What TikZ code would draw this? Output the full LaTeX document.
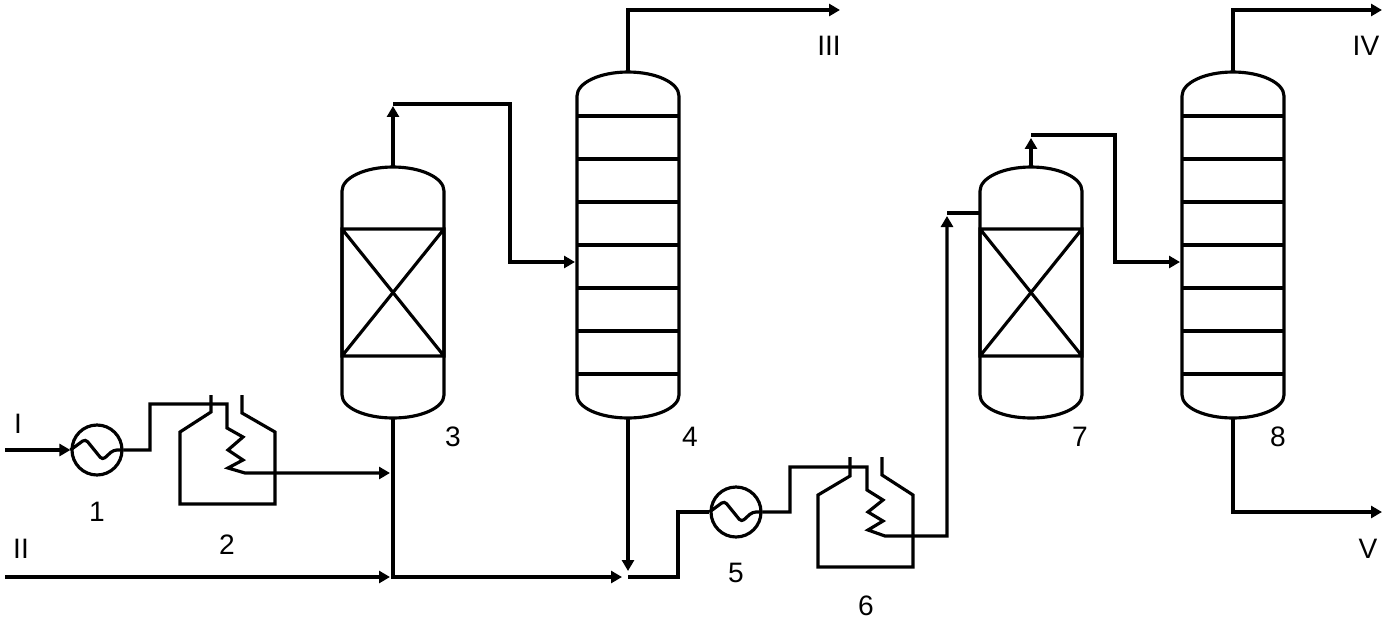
\documentclass[tikz,border=0pt]{standalone}
\usepackage{fontspec}
\setmainfont{Liberation Sans}
\usetikzlibrary{arrows.meta}

\begin{document}
\begin{tikzpicture}[x=0.02cm, y=-0.02cm, line width=1.8pt,
  flow/.style={-{Triangle[length=2.2mm,width=2.4mm]}},
  lbl/.style={font=\fontsize{16}{18}\selectfont, inner sep=0pt},
  hx/.style={shape=circle, draw, minimum size=1cm, inner sep=0pt}]
\useasboundingbox (0,0) rectangle (1386,622);

% heat exchangers
\node[hx] (E1) at (97,450){};
\node[hx] (E5) at (736,512){};
\draw[rounded corners=2pt] (E1.west) -- ++(15,-11) -- ++(17,21) -- ++(11,-10) -- (E1.east);
\draw[rounded corners=2pt] (E5.west) -- ++(15,-11) -- ++(17,21) -- ++(11,-10) -- (E5.east);

% furnaces
\draw (211,395) -- (211,412) -- (180,432) -- (180,504) -- (275,504) -- (275,432) -- (242,413) -- (242,395);
\draw (850,457) -- (850,476) -- (818,495) -- (818,567) -- (913,567) -- (913,495) -- (882,475) -- (882,457);

% reactors
\draw (342,191) arc[start angle=180, end angle=0, x radius=1.02cm, y radius=0.48cm]
  -- (444,395) arc[start angle=0, end angle=-180, x radius=1.02cm, y radius=0.46cm] -- cycle;
\draw (342,229) rectangle (444,356) (342,229) -- (444,356) (444,229) -- (342,356);
\draw (980,191) arc[start angle=180, end angle=0, x radius=1.02cm, y radius=0.48cm]
  -- (1082,395) arc[start angle=0, end angle=-180, x radius=1.02cm, y radius=0.46cm] -- cycle;
\draw (980,229) rectangle (1082,356) (980,229) -- (1082,356) (1082,229) -- (980,356);

% columns
\draw (577,96) arc[start angle=180, end angle=0, x radius=1.02cm, y radius=0.48cm]
  -- (679,395) arc[start angle=0, end angle=-180, x radius=1.02cm, y radius=0.46cm] -- cycle;
\draw (1182,96) arc[start angle=180, end angle=0, x radius=1.02cm, y radius=0.48cm]
  -- (1284,395) arc[start angle=0, end angle=-180, x radius=1.02cm, y radius=0.46cm] -- cycle;
\foreach \y in {116,159,202,245,288,331,374}{
  \draw (577,\y) -- (679,\y);
  \draw (1182,\y) -- (1284,\y);
}

% pipe ends
\coordinate (inI) at (5,450);
\coordinate (inII) at (5,577);
\coordinate (r3top) at (393,167);
\coordinate (r3up) at (393,106);
\coordinate (r3bot) at (393,418);
\coordinate (r3in) at (390,473);
\coordinate (r3inII) at (390,577);
\coordinate (c4top) at (628,72);
\coordinate (c4in) at (575,262);
\coordinate (c4bot) at (628,418);
\coordinate (c4down) at (628,571);
\coordinate (mix) at (622,577);
\coordinate (outIII) at (840,10);
\coordinate (r7top) at (1031,167);
\coordinate (r7up) at (1031,138);
\coordinate (r7feed) at (947,216);
\coordinate (r7in) at (980,213);
\coordinate (c8top) at (1233,72);
\coordinate (c8in) at (1180,262);
\coordinate (c8bot) at (1233,418);
\coordinate (outIV) at (1382,10);
\coordinate (outV) at (1382,512);

% streams
\draw[flow] (inI) -- (E1.west);
\draw[flow] (E1.east) -- (150,450) -- (150,404) -- (227,404) -- (227,428) -- (243,437) -- (228,450)
  -- (243,460) -- (228,468) -- (245,473) -- (r3in);
\draw[flow] (inII) -- (r3inII);
\draw[flow] (r3bot) |- (mix);
\draw[flow] (r3top) -- (r3up);
\draw[flow] (393,104) -| (510,262) -- (c4in);
\draw[flow] (c4top) |- (outIII);
\draw[flow] (c4bot) -- (c4down);
\draw (628,577) -| (678,512) -- (E5.west);
\draw[flow] (E5.east) -- (790,512) -- (790,467) -- (867,467) -- (867,490) -- (883,500) -- (868,512)
  -- (883,521) -- (868,530) -- (885,536) -| (r7feed);
\draw (947,213) -- (r7in);
\draw[flow] (r7top) -- (r7up);
\draw[flow] (1031,135) -| (1115,262) -- (c8in);
\draw[flow] (c8top) |- (outIV);
\draw[flow] (c8bot) |- (outV);

% labels
\node[lbl] (tI) at (18,424) {I};
\node[lbl] (tII) at (21,549) {II};
\node[lbl] (tIII) at (829,46) {III};
\node[lbl] (tIV) at (1366,46) {IV};
\node[lbl] (tV) at (1368,549) {V};
\node[lbl] (t1) at (97,512) {1};
\node[lbl] (t2) at (227,545) {2};
\node[lbl] (t3) at (453,437) {3};
\node[lbl] (t4) at (690,437) {4};
\node[lbl] (t5) at (736,573) {5};
\node[lbl] (t6) at (866,606) {6};
\node[lbl] (t7) at (1080,437) {7};
\node[lbl] (t8) at (1278,437) {8};

\end{tikzpicture}
\end{document}
